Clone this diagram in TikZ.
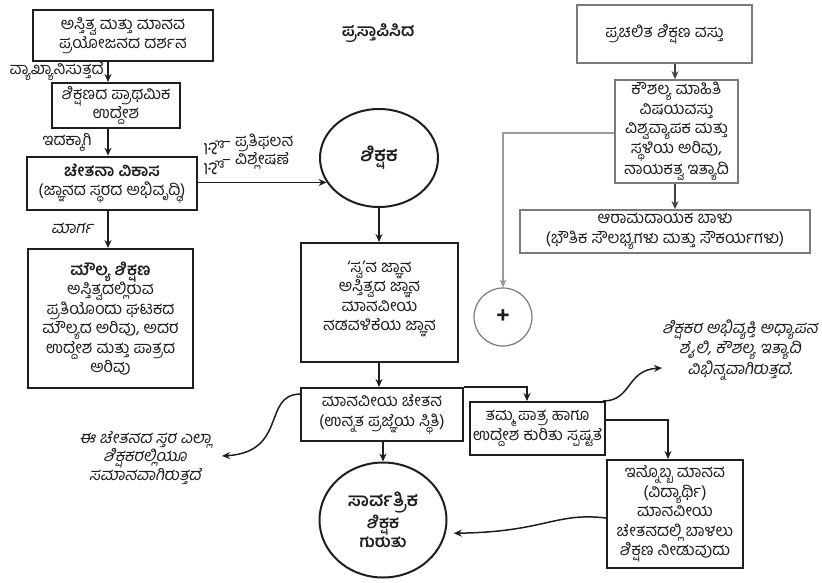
\documentclass[tikz,border=0pt]{standalone}
\usepackage{fontspec}
\setmainfont[Script=Kannada]{Hind Mysuru}
\newfontfamily\knit[Script=Kannada,FakeSlant=0.2]{Hind Mysuru}
\usetikzlibrary{arrows.meta,calc,shapes.geometric}
\definecolor{ink}{HTML}{1E1E1E}
\definecolor{gline}{HTML}{7A7A7A}
\definecolor{lline}{HTML}{9A9A9A}
\newcommand\fs{\fontsize{16.5}{19.5}\selectfont}
\newcommand\fsl{\fontsize{16.5}{18}\selectfont}
\tikzset{
  bx/.style={draw=ink, line width=2pt, fill=white, align=center, inner sep=2pt, font=\fs, text=ink},
  gbx/.style={draw=gline, line width=1.8pt, fill=white, align=center, inner sep=2pt, font=\fs, text=ink},
  circ/.style={draw=ink, line width=2pt, ellipse, align=center, font=\fs\bfseries, text=ink, inner sep=0pt},
  arr/.style={-{Stealth[length=8pt,width=7pt]}, line width=1.5pt, draw=ink},
  garr/.style={-{Stealth[length=8pt,width=7pt]}, line width=1.5pt, draw=ink!85},
  larr/.style={-{Stealth[length=8pt,width=7pt]}, line width=1.2pt, draw=lline},
  lbl/.style={font=\fsl, text=ink, inner sep=0pt, align=center},
  ilbl/.style={font=\fsl\knit, text=ink, inner sep=0pt, align=center},
}
\begin{document}
\begin{tikzpicture}[x=1pt,y=-1pt]
\useasboundingbox[fill=white] (0,0) rectangle (822,582);
% left column
\node[bx, minimum width=180pt, minimum height=51pt] (A) at (123,35.5) {ಅಸ್ತಿತ್ವ ಮತ್ತು ಮಾನವ\\ಪ್ರಯೋಜನದ ದರ್ಶನ};
\node[bx, minimum width=128pt, minimum height=45pt] (B) at (116,105.5) {ಶಿಕ್ಷಣದ ಪ್ರಾಥಮಿಕ\\ಉದ್ದೇಶ};
\node[bx, line width=2.6pt, minimum width=170pt, minimum height=53pt] (C) at (112,183.5) {{\bfseries ಚೇತನಾ ವಿಕಾಸ}\\(ಜ್ಞಾನದ ಸ್ಥರದ ಅಭಿವೃದ್ಧಿ)};
\node[bx, minimum width=165pt, minimum height=139pt] (L) at (110.5,318.5) {{\bfseries ಮೌಲ್ಯ ಶಿಕ್ಷಣ}\\ಅಸ್ತಿತ್ವದಲ್ಲಿರುವ\\ಪ್ರತಿಯೊಂದು ಘಟಕದ\\ಮೌಲ್ಯದ ಅರಿವು, ಅದರ\\ಉದ್ದೇಶ ಮತ್ತು ಪಾತ್ರದ\\ಅರಿವು};
\coordinate (lx) at (108,0);
\draw[arr] (A.south -| lx) -- (B.north -| lx);
\draw[arr] (B.south -| lx) -- (C.north -| lx);
\draw[arr] (C.south -| lx) -- (L.north -| lx);
\node[lbl, anchor=east] (t1) at (104,71) {ವ್ಯಾಖ್ಯಾನಿಸುತ್ತದೆ};
\node[lbl] (t2) at (67,142) {ಇದಕ್ಕಾಗಿ};
\node[ilbl] (t3) at (72,228) {ಮಾರ್ಗ};
% title
\node[lbl, font=\fontsize{17}{20}\selectfont\bfseries] (ttl) at (378,33) {ಪ್ರಸ್ತಾಪಿಸಿದ};
% centre column
\node[circ, minimum width=118pt, minimum height=98pt] (S) at (379,158) {\fontsize{19}{22}\selectfont ಶಿಕ್ಷಕ};
\draw[arr] (C.east |- S.205) -- (S.205);
\node[lbl, rotate=90, font=\fontsize{20}{20}\selectfont] (sv1) at (214,148) {ಸ್ವ};
\node[lbl, rotate=90, font=\fontsize{20}{20}\selectfont] (sv2) at (214,168) {ಸ್ವ};
\node[lbl, anchor=west, align=left] (sl) at (222,152) {– ಪ್ರತಿಫಲನ\\– ವಿಶ್ಲೇಷಣೆ};
\node[bx, minimum width=157pt, minimum height=119pt] (D) at (379.5,302.5) {‘ಸ್ವ’ನ ಜ್ಞಾನ\\ಅಸ್ತಿತ್ವದ ಜ್ಞಾನ\\ಮಾನವೀಯ\\ನಡವಳಿಕೆಯ ಜ್ಞಾನ\\[-6.5pt]};
\draw[arr] (S.south) -- (S.south |- D.north);
\node[bx, minimum width=162pt, minimum height=53pt] (E) at (382,414.5) {ಮಾನವೀಯ ಚೇತನ\\(ಉನ್ನತ ಪ್ರಜ್ಞೆಯ ಸ್ಥಿತಿ)};
\draw[arr] (D.south -| S.south) -- (S.south |- E.north);
\node[circ, minimum width=127pt, minimum height=115pt] (F) at (383,520) {\fontsize{18.5}{24}\selectfont ಸಾರ್ವತ್ರಿಕ\\ಶಿಕ್ಷಕ\\ಗುರುತು};
\draw[arr] (E.south -| F.north) -- (F.north);
\coordinate (el) at (222,456);
\draw[arr] ([yshift=-7pt]E.north west) .. controls (262,395) and (288,452) .. (el);
\node[ilbl] (et) at (145,458) {ಈ ಚೇತನದ ಸ್ತರ ಎಲ್ಲಾ\\ಶಿಕ್ಷಕರಲ್ಲಿಯೂ\\ಸಮಾನವಾಗಿರುತ್ತದೆ};
% lower right
\node[bx, minimum width=135pt, minimum height=53pt] (G) at (537.5,428.5) {ತಮ್ಮ ಪಾತ್ರ ಹಾಗೂ\\ಉದ್ದೇಶ ಕುರಿತು ಸ್ಪಷ್ಟತೆ};
\coordinate (gx) at (527,0);
\draw[arr] (E.north east) -| (G.north -| gx);
\node[bx, minimum width=136pt, minimum height=108pt] (H) at (675,514) {ಇನ್ನೊಬ್ಬ ಮಾನವ\\(ವಿದ್ಯಾರ್ಥಿ)\\ಮಾನವೀಯ\\ಚೇತನದಲ್ಲಿ ಬಾಳಲು\\ಶಿಕ್ಷಣ ನೀಡುವುದು};
\coordinate (gy) at (0,420);
\coordinate (hx) at (668,0);
\draw[arr] (G.east |- gy) -| (H.north -| hx);
\coordinate (gt) at (662,368);
\draw[arr] ([xshift=-3pt]G.north east) .. controls (632,401) and (626,370) .. (gt);
\node[ilbl] (gtx) at (740,350) {ಶಿಕ್ಷಕರ ಅಭಿವ್ಯಕ್ತಿ ಅಧ್ಯಾಪನ\\ಶೈಲಿ, ಕೌಶಲ್ಯ ಇತ್ಯಾದಿ\\ವಿಭಿನ್ನವಾಗಿರುತ್ತದೆ.};
\draw[arr, shorten >=8pt] ([yshift=-4pt]H.west) .. controls (555,512) and (545,532) .. (F.-12);
% right column
\node[gbx, minimum width=175pt, minimum height=58pt] (I) at (664.5,34) {ಪ್ರಚಲಿತ ಶಿಕ್ಷಣ ವಸ್ತು};
\node[gbx, minimum width=123pt, minimum height=103pt] (J) at (676.5,131.5) {ಕೌಶಲ್ಯ ಮಾಹಿತಿ\\ವಿಷಯವಸ್ತು\\ವಿಶ್ವವ್ಯಾಪಕ ಮತ್ತು\\ಸ್ಥಳಿಯ ಅರಿವು,\\ನಾಯಕತ್ವ ಇತ್ಯಾದಿ};
\node[gbx, minimum width=290pt, minimum height=43pt] (K) at (665,231.5) {ಆರಾಮದಾಯಕ ಬಾಳು\\(ಭೌತಿಕ ಸೌಲಭ್ಯಗಳು ಮತ್ತು ಸೌಕರ್ಯಗಳು)};
\coordinate (rx) at (675,0);
\draw[garr] (I.south -| rx) -- (J.north -| rx);
\draw[garr] (J.south -| rx) -- (K.north -| rx);
\node[draw=gline, line width=1.2pt, circle, minimum size=58pt, inner sep=0pt, font=\fontsize{24}{24}\selectfont\bfseries, text=ink] (P) at (503,317) {+};
\coordinate (jy) at (0,133);
\draw[larr] (J.west |- jy) -| (P.north);
\end{tikzpicture}
\end{document}
